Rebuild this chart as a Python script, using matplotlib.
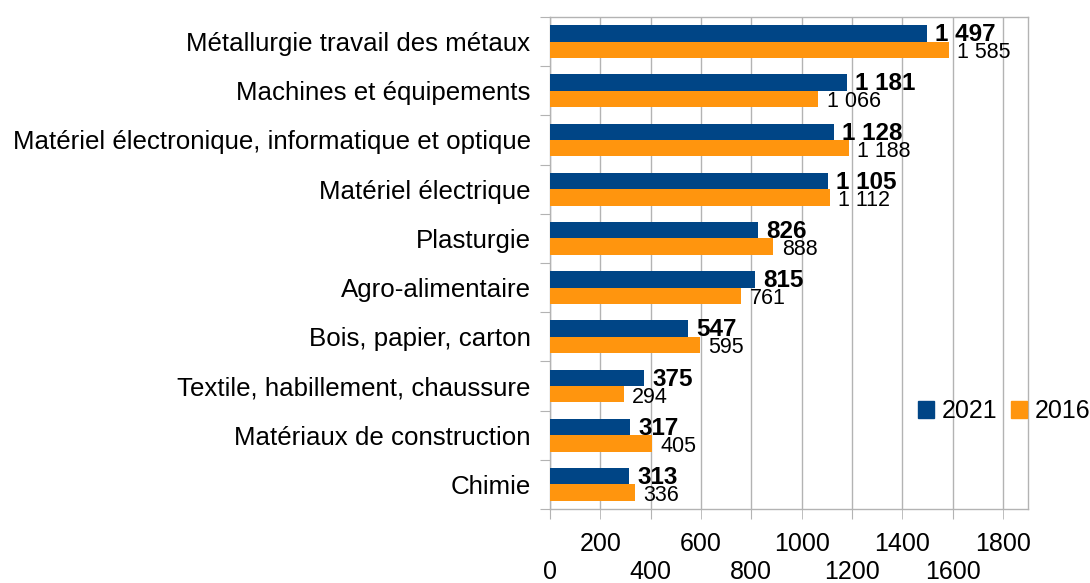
import matplotlib
matplotlib.use("Agg")
import matplotlib.pyplot as plt
from matplotlib.patches import Patch
import numpy as np

categories = [
    "Métallurgie travail des métaux",
    "Machines et équipements",
    "Matériel électronique, informatique et optique",
    "Matériel électrique",
    "Plasturgie",
    "Agro-alimentaire",
    "Bois, papier, carton",
    "Textile, habillement, chaussure",
    "Matériaux de construction",
    "Chimie",
]
values_2021 = [1497, 1181, 1128, 1105, 826, 815, 547, 375, 317, 313]
values_2016 = [1585, 1066, 1188, 1112, 888, 761, 595, 294, 405, 336]
series_names = ["2021", "2016"]
x_ticks_low = [0, 400, 800, 1200, 1600]
x_ticks_high = [200, 600, 1000, 1400, 1800]

BLUE = "#004586"
ORANGE = "#ff950e"
GRID = "#b3b3b3"

plt.rcParams["font.family"] = ["Liberation Sans", "DejaVu Sans"]

fig = plt.figure(figsize=(10.9, 5.83), dpi=100)
ax = fig.add_axes([550 / 1090, 1 - 509 / 583, (1028 - 550) / 1090, (509 - 17) / 583])

y = np.arange(len(categories))
h = 0.335
ax.barh(y - h / 2, values_2021, height=h, color=BLUE, zorder=3)
ax.barh(y + h / 2, values_2016, height=h, color=ORANGE, zorder=3)

def fmt(v):
    return f"{v:,}".replace(",", " ")

for yi, v in zip(y, values_2021):
    ax.annotate(fmt(v), (v, yi - h / 2), xytext=(6, -1), textcoords="offset points",
                va="center", ha="left", fontsize=17.5, fontweight="bold", zorder=4)
for yi, v in zip(y, values_2016):
    ax.annotate(fmt(v), (v, yi + h / 2), xytext=(6, -2), textcoords="offset points",
                va="center", ha="left", fontsize=15.5, zorder=4)

ax.set_xlim(0, 1900)
ax.set_ylim(len(categories) - 0.5, -0.5)

# x ticks: staggered labels
ax.set_xticks(x_ticks_low)
ax.set_xticklabels([str(t) for t in x_ticks_low])
ax.set_xticks(x_ticks_high, minor=True)
ax.set_xticklabels([str(t) for t in x_ticks_high], minor=True)
ax.tick_params(axis="x", which="major", length=7, color=GRID, labelsize=18, pad=30)
ax.tick_params(axis="x", which="minor", length=7, color=GRID, labelsize=18, pad=9.5)
ax.grid(axis="x", which="both", color=GRID, linewidth=1, zorder=0)

# y ticks: boundaries as ticks, labels at centers
ax.set_yticks(np.arange(-0.5, len(categories) + 0.5, 1.0))
ax.set_yticklabels([])
ax.set_yticks(y, minor=True)
ax.set_yticklabels(categories, minor=True)
ax.tick_params(axis="y", which="major", length=7, color=GRID)
ax.tick_params(axis="y", which="minor", length=0, labelsize=18.6, pad=14)

for s in ax.spines.values():
    s.set_color(GRID)
    s.set_linewidth(1)

handles = [Patch(facecolor=BLUE, edgecolor=BLUE), Patch(facecolor=ORANGE, edgecolor=ORANGE)]
fig.legend(handles, series_names, loc="center left", bbox_to_anchor=(918 / 1090, 1 - 411 / 583),
           ncol=2, frameon=False, fontsize=18, handlelength=0.65, handleheight=0.65,
           handletextpad=0.3, columnspacing=0.55, borderpad=0, borderaxespad=0)

fig.savefig("out.png", dpi=100)
